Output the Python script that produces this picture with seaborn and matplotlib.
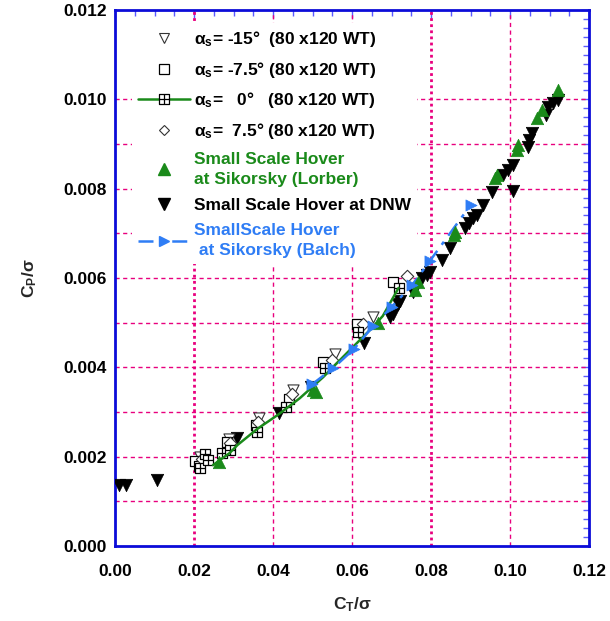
import matplotlib
matplotlib.use("Agg")
import matplotlib.pyplot as plt
from matplotlib.path import Path
from matplotlib.lines import Line2D
from matplotlib.ticker import MultipleLocator, FormatStrFormatter
import pandas as pd
import seaborn as sns

# ---------------- data: power coefficient vs thrust coefficient ----------------
# DNW small-scale hover
dnw_ct = [0.0010, 0.0028, 0.0106, 0.0207, 0.0309, 0.0415, 0.0497, 0.0630, 0.0697, 0.0703,
          0.0717, 0.0722, 0.0755, 0.0760, 0.0778, 0.0790, 0.0797, 0.0828, 0.0848, 0.0886,
          0.0896, 0.0906, 0.0916, 0.0931, 0.0955, 0.0982, 0.0995, 0.1008, 0.1008, 0.1046,
          0.1049, 0.1056, 0.1090, 0.1097, 0.1110, 0.1122]
dnw_cp = [0.00137, 0.00137, 0.00148, 0.00185, 0.00242, 0.00297, 0.00355, 0.00454, 0.00513, 0.00520,
          0.00542, 0.00548, 0.00568, 0.00575, 0.00600, 0.00607, 0.00613, 0.00640, 0.00667, 0.00712,
          0.00723, 0.00734, 0.00740, 0.00764, 0.00793, 0.00830, 0.00842, 0.00853, 0.00795, 0.00894,
          0.00910, 0.00925, 0.00965, 0.00983, 0.00992, 0.00998]

# Sikorsky small-scale hover (Lorber)
lorber_ct = [0.0263, 0.0500, 0.0510, 0.0666, 0.0760, 0.0768, 0.0857, 0.0862, 0.0962, 0.0968,
             0.1017, 0.1020, 0.1068, 0.1080, 0.1122]
lorber_cp = [0.00188, 0.00350, 0.00345, 0.00499, 0.00573, 0.00590, 0.00697, 0.00703, 0.00824, 0.00830,
             0.00887, 0.00898, 0.00958, 0.00976, 0.01020]

# Sikorsky small-scale hover (Balch)
balch_ct = [0.0499, 0.0552, 0.0605, 0.0653, 0.0700, 0.0752, 0.0797, 0.0900]
balch_cp = [0.00362, 0.00398, 0.00441, 0.00492, 0.00535, 0.00584, 0.00638, 0.00763]

# 80 x 120 wind tunnel, shaft angles
m15_ct = [0.0215, 0.0288, 0.0365, 0.0451, 0.0558, 0.0652]
m15_cp = [0.00200, 0.00240, 0.00287, 0.00350, 0.00430, 0.00512]

m75_ct = [0.0203, 0.0212, 0.0283, 0.0358, 0.0440, 0.0527, 0.0612, 0.0705]
m75_cp = [0.00190, 0.00180, 0.00232, 0.00272, 0.00330, 0.00412, 0.00497, 0.00590]

a0_ct = [0.0215, 0.0228, 0.0235, 0.0271, 0.0291, 0.0359, 0.0432, 0.0532, 0.0615, 0.0718]
a0_cp = [0.00175, 0.00205, 0.00193, 0.00208, 0.00215, 0.00256, 0.00312, 0.00398, 0.00479, 0.00578]

a0_fit_ct = [0.0248, 0.0290, 0.0310, 0.0360, 0.0413, 0.0468, 0.0527, 0.0587, 0.0646, 0.0678, 0.0718]
a0_fit_cp = [0.00181, 0.00208, 0.00226, 0.00262, 0.00294, 0.00331, 0.00378, 0.00432, 0.00484, 0.00515, 0.00578]

p75_ct = [0.0220, 0.0291, 0.0362, 0.0447, 0.0550, 0.0628, 0.0740]
p75_cp = [0.00195, 0.00230, 0.00278, 0.00340, 0.00416, 0.00497, 0.00605]

legend_labels = [
    r"$\mathbf{\alpha_s}$= -15°  (80 x120 WT)",
    r"$\mathbf{\alpha_s}$= -7.5° (80 x120 WT)",
    r"$\mathbf{\alpha_s}$=   0°   (80 x120 WT)",
    r"$\mathbf{\alpha_s}$=  7.5° (80 x120 WT)",
    "Small Scale Hover\nat Sikorsky (Lorber)",
    "Small Scale Hover at DNW",
    "SmallScale Hover\n at Sikorsky (Balch)",
]

x_ticks = [0.00, 0.02, 0.04, 0.06, 0.08, 0.10, 0.12]
y_ticks = [0.000, 0.002, 0.004, 0.006, 0.008, 0.010, 0.012]

# ---------------- style ----------------
sns.set_theme(style="white")
plt.rcParams.update({
    "font.family": ["Liberation Sans", "DejaVu Sans"],
    "font.weight": "bold",
    "mathtext.fontset": "custom",
    "mathtext.rm": "Liberation Sans:bold",
    "mathtext.bf": "Liberation Sans:bold",
    "mathtext.it": "Liberation Sans:bold",
    "mathtext.sf": "Liberation Sans:bold",
})

GREEN = "#1a8a1a"
BLUE = "#2f7df5"
AXBLUE = "#0c0cd8"
PINK = "#e8007e"

# square with a cross through it
grid_square = Path(
    [(-1, -1), (1, -1), (1, 1), (-1, 1), (-1, -1), (0, -1), (0, 1), (-1, 0), (1, 0)],
    [Path.MOVETO, Path.LINETO, Path.LINETO, Path.LINETO, Path.CLOSEPOLY,
     Path.MOVETO, Path.LINETO, Path.MOVETO, Path.LINETO],
)

fig = plt.figure(figsize=(6.10, 6.21), dpi=100)
ax = fig.add_axes([115 / 610, 75 / 621, 474 / 610, 536 / 621])

# reference grid
for yv in [0.001, 0.002, 0.003, 0.004, 0.005, 0.006, 0.007, 0.008, 0.009, 0.010]:
    ax.axhline(yv, color=PINK, lw=1.0, dashes=(3, 2.5), zorder=1)
for xv in [0.04, 0.06, 0.10]:
    ax.axvline(xv, color=PINK, lw=1.0, dashes=(3, 2.5), zorder=1)
for xv in [0.02, 0.08]:
    ax.axvline(xv, color=PINK, lw=2.0, dashes=(1, 1.2), zorder=1)

# data
sns.scatterplot(x=dnw_ct, y=dnw_cp, marker="v", s=80, color="black", edgecolor="black",
                linewidth=0.5, ax=ax, zorder=3, legend=False)
sns.scatterplot(x=m15_ct, y=m15_cp, marker="v", s=64, color="white", edgecolor="#333333",
                linewidth=0.8, ax=ax, zorder=4, legend=False)
sns.scatterplot(x=m75_ct, y=m75_cp, marker="s", s=60, color="white", edgecolor="black",
                linewidth=0.9, ax=ax, zorder=4, legend=False)
sns.scatterplot(x=p75_ct, y=p75_cp, marker="D", s=40, color="white", edgecolor="#333333",
                linewidth=0.8, ax=ax, zorder=4, legend=False)
sns.scatterplot(x=a0_ct, y=a0_cp, marker=grid_square, s=60, color="white", edgecolor="black",
                linewidth=0.9, ax=ax, zorder=5, legend=False)
fit_df = pd.DataFrame({"ct": a0_fit_ct, "cp": a0_fit_cp})
sns.lineplot(data=fit_df, x="ct", y="cp", color=GREEN, lw=1.8, sort=False, ax=ax, zorder=6)
balch_df = pd.DataFrame({"ct": balch_ct, "cp": balch_cp})
sns.lineplot(data=balch_df, x="ct", y="cp", color=BLUE, lw=1.8, dashes=False, sort=False,
             ax=ax, zorder=6).lines[-1].set_dashes((6, 3, 1.5, 3))
sns.scatterplot(x=lorber_ct, y=lorber_cp, marker="^", s=80, color=GREEN, edgecolor=GREEN,
                linewidth=0.5, ax=ax, zorder=7, legend=False)
sns.scatterplot(x=balch_ct, y=balch_cp, marker=">", s=64, color=BLUE, edgecolor=BLUE,
                linewidth=0.5, ax=ax, zorder=7, legend=False)

# axes
ax.set_xlim(0, 0.12)
ax.set_ylim(0, 0.012)
ax.set_xticks(x_ticks)
ax.set_yticks(y_ticks)
ax.xaxis.set_minor_locator(MultipleLocator(0.005))
ax.yaxis.set_minor_locator(MultipleLocator(0.0002))
ax.xaxis.set_major_formatter(FormatStrFormatter("%.2f"))
ax.yaxis.set_major_formatter(FormatStrFormatter("%.3f"))
ax.tick_params(which="both", direction="in", top=True, right=True, color="#5a5aff",
               labelsize=12.5, labelcolor="black")
ax.tick_params(which="major", length=6, width=1.0)
ax.tick_params(which="minor", length=4, width=1.0)
ax.tick_params(axis="x", which="major", pad=13)
ax.tick_params(axis="y", which="major", pad=6)
for lbl in ax.get_xticklabels() + ax.get_yticklabels():
    lbl.set_fontweight("bold")
for sp in ax.spines.values():
    sp.set_color(AXBLUE)
    sp.set_linewidth(2.0)
    sp.set_visible(True)

ax.set_xlabel(r"$\mathbf{C_T/\sigma}$", fontsize=12.5, labelpad=12)
ax.set_ylabel(r"$\mathbf{C_P/\sigma}$", fontsize=12.5, labelpad=17)

# legend
handles = [
    Line2D([], [], ls="none", marker="v", ms=7, mfc="white", mec="#333333", mew=0.8),
    Line2D([], [], ls="none", marker="s", ms=6.5, mfc="white", mec="black", mew=0.9),
    Line2D([], [], color=GREEN, lw=1.8, marker=grid_square, ms=7, mfc="white", mec="black", mew=0.9),
    Line2D([], [], ls="none", marker="D", ms=5.5, mfc="white", mec="#333333", mew=0.8),
    Line2D([], [], ls="none", marker="^", ms=8, color=GREEN),
    Line2D([], [], ls="none", marker="v", ms=8, color="black"),
    Line2D([], [], color=BLUE, lw=1.8, dashes=(6, 3, 1.5, 3), marker=">", ms=7.5, mfc=BLUE, mec=BLUE),
]
leg = ax.legend(handles, legend_labels, loc="upper left", bbox_to_anchor=(0.036, 0.976),
                borderaxespad=0, borderpad=0.35, handlelength=3.0, handletextpad=0.2,
                labelspacing=0.62, frameon=True, facecolor="white", edgecolor="none",
                framealpha=1.0, fancybox=False, prop={"size": 12.5, "weight": "bold"})
leg.set_zorder(8)
text_colors = ["black", "black", "black", "black", GREEN, "black", BLUE]
for t, c in zip(leg.get_texts(), text_colors):
    t.set_color(c)
    t.set_linespacing(1.4)

fig.savefig("out.png", dpi=100)
